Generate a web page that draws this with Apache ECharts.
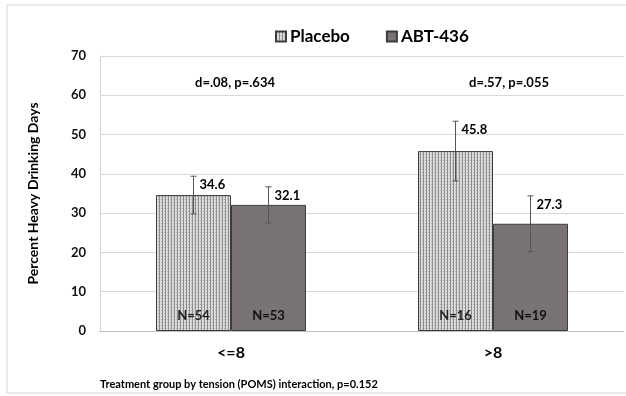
<!DOCTYPE html>
<html>
<head>
<meta charset="utf-8">
<script src="https://cdn.jsdelivr.net/npm/echarts@6/dist/echarts.min.js"></script>
<style>html,body{margin:0;padding:0;background:#fff}#c{width:626px;height:396px}</style>
</head>
<body>
<div id="c"></div>
<script>
const categories = ['<=8', '>8'];
const seriesNames = ['Placebo', 'ABT-436'];
const placeboMean = [34.6, 45.8];
const abtMean = [32.1, 27.3];
const placeboErr = [4.8, 7.6];
const abtErr = [4.6, 7.1];
const placeboN = ['N=54', 'N=16'];
const abtN = ['N=53', 'N=19'];
const effectLabels = ['d=.08, p=.634', 'd=.57, p=.055'];
const yTicks = [0, 10, 20, 30, 40, 50, 60, 70];
const footnote = 'Treatment group by tension (POMS) interaction, p=0.152';

const FONT = 'Lato, "Open Sans", sans-serif';

// striped pattern for Placebo
const pc = document.createElement('canvas');
pc.width = 3; pc.height = 3;
const pctx = pc.getContext('2d');
pctx.fillStyle = '#dcdcdc';
pctx.fillRect(0, 0, 3, 3);
pctx.fillStyle = '#8e8e8e';
pctx.fillRect(0, 0, 1, 3);
pctx.fillStyle = '#b4b4b4';
pctx.fillRect(2, 1, 1, 1);

const chart = echarts.init(document.getElementById('c'));
const BAR_W = 75;

function errSeries(name, means, errs, offsetSign) {
  return {
    type: 'custom',
    name: name + ' err',
    z: 10,
    silent: true,
    data: means.map((m, i) => [i, m, m - errs[i], m + errs[i]]),
    renderItem: function (params, api) {
      const c = api.coord([api.value(0), api.value(1)]);
      const x = c[0] + offsetSign * BAR_W / 2;
      const lo = api.coord([api.value(0), api.value(2)])[1];
      const hi = api.coord([api.value(0), api.value(3)])[1];
      const cap = 3;
      const st = { stroke: '#555', lineWidth: 1 };
      return {
        type: 'group',
        children: [
          { type: 'line', shape: { x1: x, y1: lo, x2: x, y2: hi }, style: st },
          { type: 'line', shape: { x1: x - cap, y1: lo, x2: x + cap, y2: lo }, style: st },
          { type: 'line', shape: { x1: x - cap, y1: hi, x2: x + cap, y2: hi }, style: st },
          { type: 'text', x: x + 6, y: hi + 9,
            style: { text: api.value(1).toFixed(1), font: 'bold 13px ' + FONT, fill: '#000', align: 'left', verticalAlign: 'middle' } }
        ]
      };
    }
  };
}

const option = {
  animation: false,
  backgroundColor: '#fff',
  grid: { left: 100, right: 2, top: 56, bottom: 65 },
  legend: {
    data: seriesNames.map(n => ({ name: n, icon: 'rect' })),
    left: 270, top: 23,
    itemWidth: 10, itemHeight: 10, itemGap: 36,
    textStyle: { fontFamily: FONT, fontWeight: 'bold', fontSize: 17, color: '#000', padding: [0, 0, 0, -1] }
  },
  xAxis: {
    type: 'category',
    data: categories,
    axisLine: { lineStyle: { color: '#bfbfbf' } },
    axisTick: { show: false },
    axisLabel: { fontFamily: FONT, fontWeight: 'bold', fontSize: 16, color: '#000', margin: 14 }
  },
  yAxis: {
    type: 'value',
    min: 0, max: 70, interval: 10,
    name: 'Percent Heavy Drinking Days',
    nameLocation: 'middle', nameGap: 60, nameRotate: 90,
    nameTextStyle: { fontFamily: FONT, fontWeight: 'bold', fontSize: 14, color: '#000' },
    axisLine: { show: true, lineStyle: { color: '#d0d0d0' } },
    axisTick: { show: false },
    axisLabel: { fontFamily: FONT, fontWeight: 'bold', fontSize: 13, color: '#111', margin: 14,
      formatter: v => yTicks.includes(v) ? String(v) : '' },
    splitLine: { lineStyle: { color: '#d9d9d9' } }
  },
  series: [
    {
      name: seriesNames[0], type: 'bar', barWidth: BAR_W, barGap: '0%',
      data: placeboMean,
      itemStyle: { color: { image: pc, repeat: 'repeat' }, borderColor: '#3c3c3c', borderWidth: 1 },
      label: { show: true, position: 'insideBottom', distance: 9,
        formatter: p => placeboN[p.dataIndex],
        fontFamily: FONT, fontWeight: 'bold', fontSize: 13, color: '#222' }
    },
    {
      name: seriesNames[1], type: 'bar', barWidth: BAR_W, barGap: '0%',
      data: abtMean,
      itemStyle: { color: '#797373', borderColor: '#3c3c3c', borderWidth: 1 },
      label: { show: true, position: 'insideBottom', distance: 9,
        formatter: p => abtN[p.dataIndex],
        fontFamily: FONT, fontWeight: 'bold', fontSize: 13, color: '#111' }
    },
    errSeries(seriesNames[0], placeboMean, placeboErr, -1),
    errSeries(seriesNames[1], abtMean, abtErr, 1)
  ],
  graphic: [
    { type: 'rect', shape: { x: 7, y: 5, width: 640, height: 388 }, style: { fill: 'none', stroke: '#d4d4d4', lineWidth: 1 }, z: -1 },
    { type: 'text', x: 235, y: 83, style: { text: effectLabels[0], font: 'bold 13px ' + FONT, fill: '#000', align: 'center', verticalAlign: 'middle' } },
    { type: 'text', x: 509, y: 83, style: { text: effectLabels[1], font: 'bold 13px ' + FONT, fill: '#000', align: 'center', verticalAlign: 'middle' } },
    { type: 'text', x: 100, y: 384, style: { text: footnote, font: 'bold 11px ' + FONT, fill: '#000', align: 'left', verticalAlign: 'middle' } }
  ]
};
chart.setOption(option);
</script>
</body>
</html>
